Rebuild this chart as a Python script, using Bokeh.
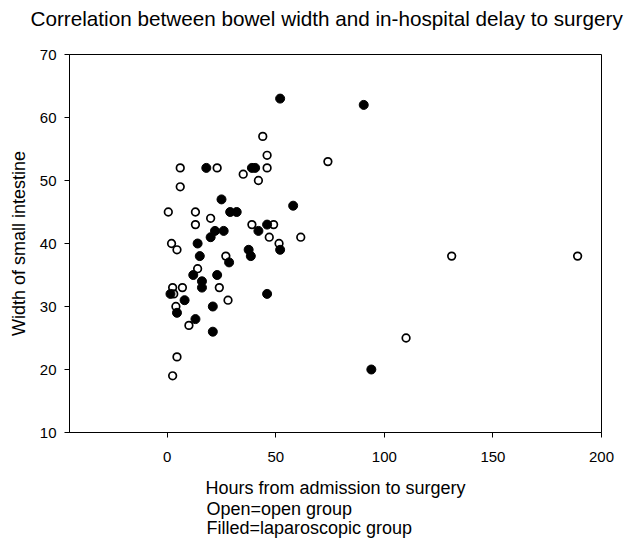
from bokeh.plotting import figure
from bokeh.models import Range1d, FixedTicker, Title
from bokeh.embed import file_html
from bokeh.resources import INLINE

# Open circles = open group
open_x = [44, 46, 74, 6, 23, 46, 35, 42, 6, 0.5, 13, 20, 13, 39, 49, 47, 61.5,
          2, 51.5, 4.5, 27, 14, 2.5, 7, 24, 3, 28, 4, 10, 4.5, 2.5, 131, 189, 110]
open_y = [57, 54, 53, 52, 52, 52, 51, 50, 49, 45, 45, 44, 43, 43, 43, 41, 41,
          40, 40, 39, 38, 36, 33, 33, 33, 32, 31, 30, 27, 22, 19, 38, 38, 25]

# Filled circles = laparoscopic group
lap_x = [52, 90.5, 18, 39, 40.5, 25, 58, 29, 32, 46, 22, 26, 42, 20, 14, 52,
         37.5, 38.5, 15, 28.5, 12, 23, 16, 16, 1.5, 46, 8, 4.5, 21, 13, 21, 94]
lap_y = [63, 62, 52, 52, 52, 47, 46, 45, 45, 43, 42, 42, 42, 41, 40, 39,
         39, 38, 38, 37, 35, 35, 34, 33, 32, 32, 31, 29, 30, 28, 26, 20]

x_ticks = [0, 50, 100, 150, 200]
y_ticks = [10, 20, 30, 40, 50, 60, 70]

title_text = "Correlation between bowel width and in-hospital delay to surgery"
x_label = "Hours from admission to surgery"
caption_lines = ["Open=open group", "Filled=laparoscopic group"]
y_label = "Width of small intestine"

FONT = "Liberation Sans"

p = figure(width=626, height=538, output_backend="svg", toolbar_location=None,
           x_range=Range1d(-45, 200), y_range=Range1d(10, 70),
           min_border_left=69, min_border_right=25, min_border_top=54,
           min_border_bottom=103)
p.background_fill_color = "white"
p.border_fill_color = "white"
p.outline_line_color = "black"
p.outline_line_width = 1
p.grid.visible = False

for ax in (p.xaxis, p.yaxis):
    ax.axis_line_color = "black"
    ax.axis_line_width = 1
    ax.major_tick_line_color = "black"
    ax.minor_tick_line_color = None
    ax.major_tick_in = 0
    ax.major_label_text_font = FONT
    ax.major_label_text_font_size = "15px"
    ax.major_label_text_color = "black"
    ax.axis_label_text_font = FONT
    ax.axis_label_text_font_size = "18px"
    ax.axis_label_text_font_style = "normal"
    ax.axis_label_text_color = "black"

p.xaxis.ticker = FixedTicker(ticks=x_ticks)
p.yaxis.ticker = FixedTicker(ticks=y_ticks)
p.xaxis.major_tick_out = 5
p.yaxis.major_tick_out = 5
p.xaxis.major_label_standoff = 14
p.yaxis.major_label_standoff = 8

p.yaxis.axis_label = y_label
p.yaxis.axis_label_standoff = 8
p.xaxis.axis_label = x_label
p.xaxis.axis_label_standoff = 13

p.scatter(open_x, open_y, marker="circle", size=7.6, fill_color="white",
          line_color="black", line_width=1.7)
p.scatter(lap_x, lap_y, marker="circle", size=9, fill_color="black",
          line_color="black", line_width=1)

# spacer between frame and title, then the title itself
p.add_layout(Title(text=" ", standoff=20, text_font=FONT,
                   text_font_size="1px"), "above")
p.add_layout(Title(text=title_text, align="left", offset=-39,
                   vertical_align="top", standoff=0, text_font=FONT,
                   text_font_size="20.7px", text_font_style="normal",
                   text_color="black"), "above")
for txt in caption_lines:
    p.add_layout(Title(text=txt, align="left", offset=137,
                       vertical_align="top", standoff=-3, text_font=FONT,
                       text_font_size="18px", text_font_style="normal",
                       text_color="black"), "below")

open("out.html", "w").write(file_html(p, INLINE))
